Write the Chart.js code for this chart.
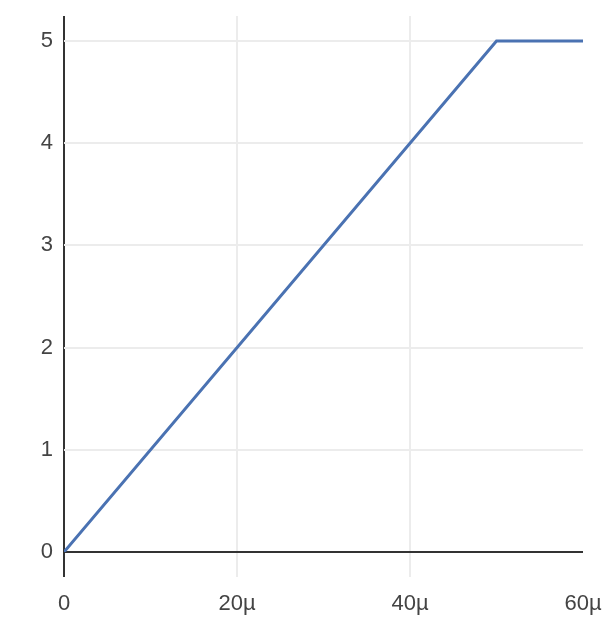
<!DOCTYPE html>
<html>
<head>
<meta charset="utf-8">
<script src="https://cdn.jsdelivr.net/npm/chart.js@4"></script>
<style>
  html, body { margin: 0; padding: 0; background: #fff; }
  #wrap { width: 602px; height: 625px; }
</style>
</head>
<body>
<div id="wrap"><canvas id="chart"></canvas></div>
<script>
// data
const xValues = [0, 50e-6, 60e-6];
const yValues = [0, 5, 5];
const xTicks = [0, 20e-6, 40e-6, 60e-6];
const yTicks = [0, 1, 2, 3, 4, 5];

const AXIS = '#333333';
const GRID = '#ececec';

Chart.defaults.font.family = "'Liberation Sans', Arial, sans-serif";
Chart.defaults.font.size = 22;
Chart.defaults.color = '#444444';

function fmtMicro(v) {
    if (Math.abs(v) < 1e-12) return '0';
    return Math.round(v * 1e6) + 'µ';
}

new Chart(document.getElementById('chart'), {
    type: 'line',
    data: {
        datasets: [{
            data: xValues.map((x, i) => ({ x, y: yValues[i] })),
            borderColor: '#4a72b2',
            borderWidth: 3,
            pointRadius: 0,
            tension: 0,
            fill: false,
        }]
    },
    options: {
        responsive: true,
        maintainAspectRatio: false,
        animation: false,
        layout: { padding: { top: 16, right: 19, left: 0, bottom: 0 } },
        plugins: {
            legend: { display: false },
            tooltip: { enabled: false },
        },
        scales: {
            x: {
                type: 'linear',
                min: 0,
                max: 60e-6,
                afterBuildTicks: s => { s.ticks = xTicks.map(value => ({ value })); },
                afterFit: s => { s.height = 73; s.paddingLeft = 0; s.paddingRight = 0; },
                border: { display: false },
                grid: {
                    color: c => c.tick && c.tick.value === 0 ? AXIS : (c.tick && c.tick.value >= 60e-6 ? 'rgba(0,0,0,0)' : GRID),
                    lineWidth: 2,
                    tickLength: 25,
                },
                ticks: {
                    padding: 14,
                    maxRotation: 0,
                    callback: v => fmtMicro(v),
                },
            },
            y: {
                type: 'linear',
                min: 0,
                max: 5.245,
                afterBuildTicks: s => { s.ticks = yTicks.map(value => ({ value })); },
                afterFit: s => { s.width = 64; s.paddingTop = 0; s.paddingBottom = 0; },
                border: { display: false },
                grid: {
                    color: c => c.tick && c.tick.value === 0 ? AXIS : GRID,
                    lineWidth: 2,
                    drawTicks: false,
                },
                ticks: {
                    padding: 11,
                },
            },
        },
    },
});
</script>
</body>
</html>
